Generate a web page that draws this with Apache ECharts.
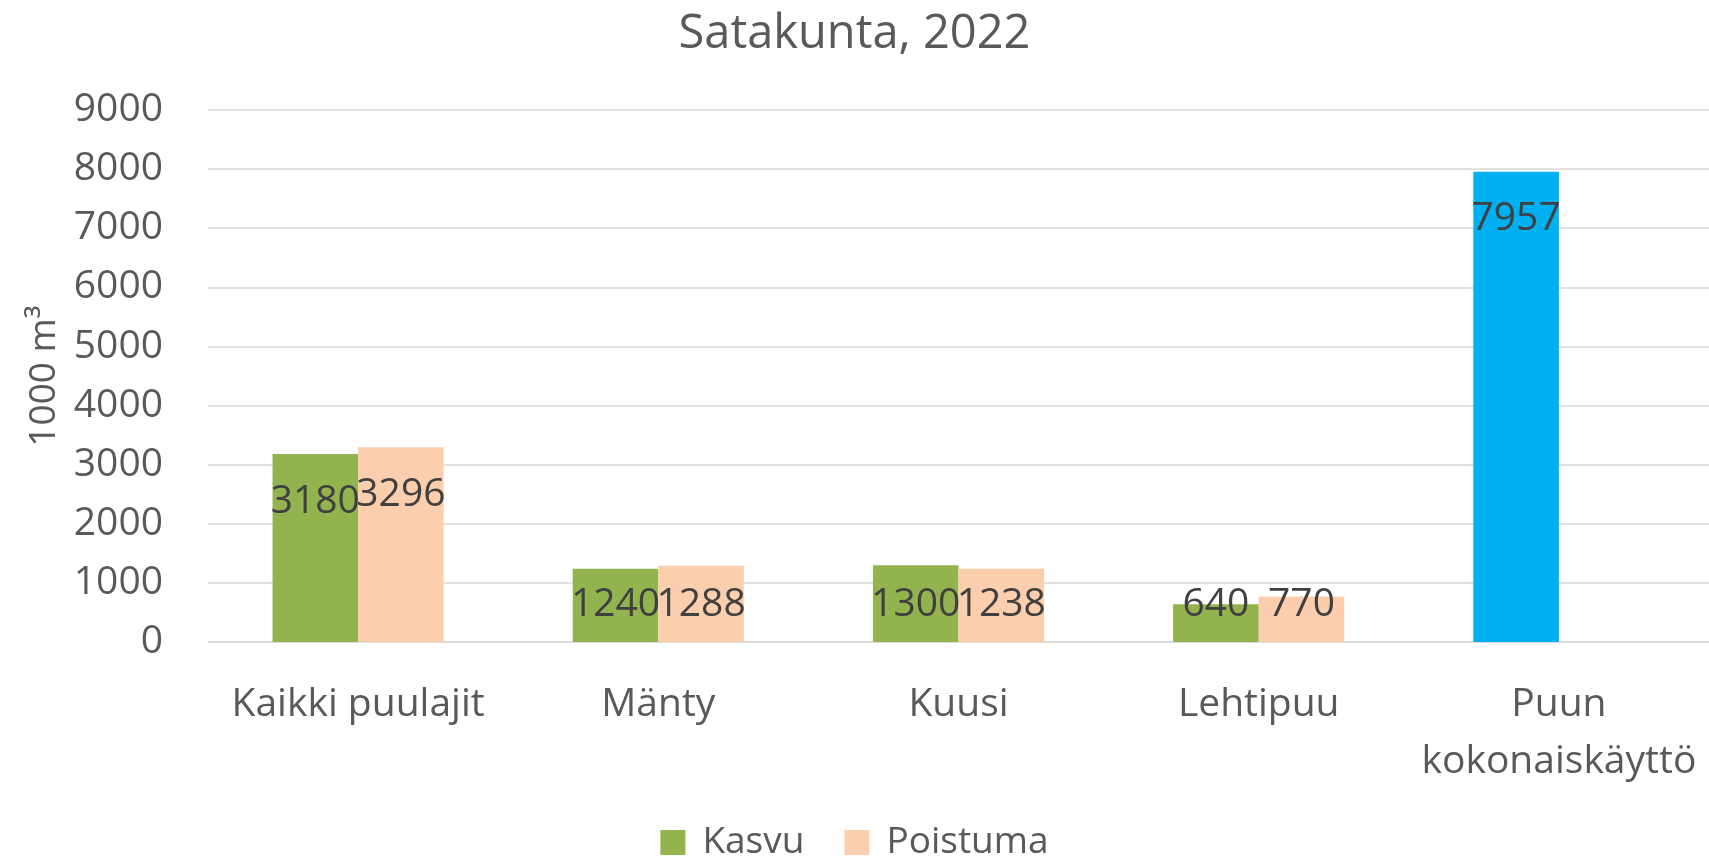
<!DOCTYPE html>
<html>
<head>
<meta charset="utf-8">
<script src="https://cdn.jsdelivr.net/npm/echarts@6/dist/echarts.min.js"></script>
<style>
  html, body { margin: 0; padding: 0; background: #fff; }
  #chart { width: 1709px; height: 857px; }
</style>
</head>
<body>
<div id="chart"></div>
<script>
// data (1000 m3)
var categories = ['Kaikki puulajit', 'Mänty', 'Kuusi', 'Lehtipuu', 'Puun kokonaiskäyttö'];
var kasvu = [3180, 1240, 1300, 640, null];
var poistuma = [3296, 1288, 1238, 770, null];
var kokonaiskaytto = [null, null, null, null, 7957];
var yTicks = { min: 0, max: 9000, interval: 1000 };

var txt = '#595959';
var font = 'Open Sans';

// short bars: label sits just above the axis instead of under the bar top
var clampBelow = 1400;
function withLabels(arr) {
  return arr.map(function (v) {
    if (v == null) return null;
    if (v < clampBelow) {
      return { value: v, label: { position: 'insideBottom', distance: 18 } };
    }
    return v;
  });
}

var valueLabel = {
  show: true,
  position: 'insideTop',
  distance: 28,
  color: '#404040',
  fontFamily: font,
  fontSize: 39
};

var myChart = echarts.init(document.getElementById('chart'));
var option = {
  backgroundColor: '#fff',
  animation: false,
  title: {
    text: 'Satakunta, 2022',
    left: 'center',
    top: 11,
    padding: 0,
    textStyle: { color: txt, fontFamily: font, fontSize: 47, fontWeight: 'normal' }
  },
  legend: {
    data: ['Kasvu', 'Poistuma'],
    left: 'center',
    top: 824,
    padding: 0,
    icon: 'rect',
    itemWidth: 25,
    itemHeight: 25,
    itemGap: 40,
    textStyle: {
      color: txt, fontFamily: font, fontSize: 37, lineHeight: 25,
      padding: [0, 0, 0, 12]
    }
  },
  grid: { left: 208, right: -4, top: 110, bottom: 215, containLabel: false },
  xAxis: {
    type: 'category',
    data: categories,
    axisLine: { show: true, lineStyle: { color: '#d9d9d9', width: 1.5 } },
    axisTick: { show: false },
    axisLabel: {
      color: txt, fontFamily: font, fontSize: 39, margin: 34, lineHeight: 57,
      interval: 0,
      formatter: function (v) { return v.length > 16 ? v.replace(' ', '\n') : v; }
    }
  },
  yAxis: {
    type: 'value',
    min: yTicks.min,
    max: yTicks.max,
    interval: yTicks.interval,
    name: '1000 m³',
    nameLocation: 'middle',
    nameRotate: 90,
    nameGap: 140,
    nameTextStyle: { color: txt, fontFamily: font, fontSize: 37 },
    axisLine: { show: false },
    axisTick: { show: false },
    axisLabel: {
      color: txt, fontFamily: font, fontSize: 39, margin: 45,
      formatter: function (v) { return String(v); }
    },
    splitLine: { lineStyle: { color: '#d9d9d9', width: 1.5 } }
  },
  series: [
    {
      name: 'Kasvu',
      type: 'bar',
      stack: 'left',
      data: withLabels(kasvu),
      barGap: '0%',
      barCategoryGap: '43%',
      itemStyle: { color: '#93b34f' },
      label: valueLabel
    },
    {
      name: 'Poistuma',
      type: 'bar',
      data: withLabels(poistuma),
      itemStyle: { color: '#fbcfae' },
      label: valueLabel
    },
    {
      name: 'Puun kokonaiskäyttö',
      type: 'bar',
      stack: 'left',
      data: withLabels(kokonaiskaytto),
      itemStyle: { color: '#00b0f0' },
      label: valueLabel
    }
  ]
};
myChart.setOption(option);
</script>
</body>
</html>
